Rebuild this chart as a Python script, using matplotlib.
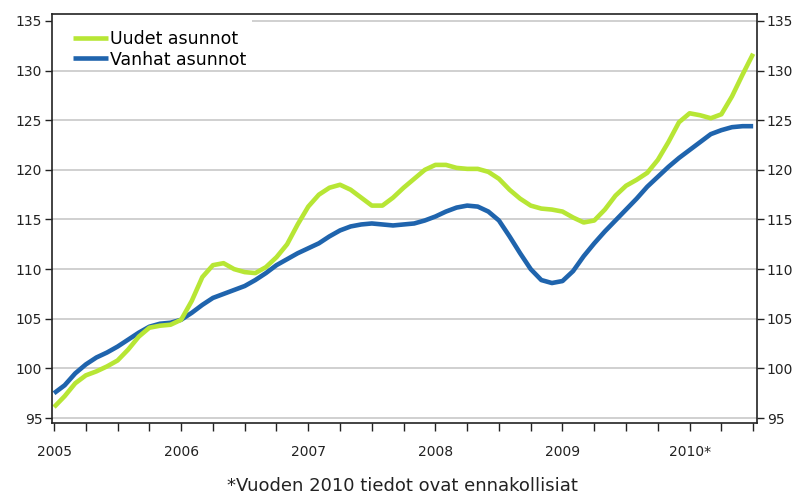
import matplotlib
matplotlib.use('Agg')
import matplotlib.pyplot as plt
from matplotlib.patches import Rectangle

# monthly index values, Jan 2005 .. Jul 2010
start_year = 2005
uudet = [96.1, 97.2, 98.5, 99.3, 99.7, 100.2, 100.8, 101.9, 103.2, 104.1, 104.3, 104.4,
         104.9, 106.8, 109.2, 110.4, 110.6, 110.0, 109.7, 109.6, 110.2, 111.2, 112.5, 114.5,
         116.3, 117.5, 118.2, 118.5, 118.0, 117.2, 116.4, 116.4, 117.2, 118.2, 119.1, 120.0,
         120.5, 120.5, 120.2, 120.1, 120.1, 119.8, 119.1, 118.0, 117.1, 116.4, 116.1, 116.0,
         115.8, 115.2, 114.7, 114.9, 116.0, 117.4, 118.4, 119.0, 119.7, 121.0, 122.8, 124.8,
         125.7, 125.5, 125.2, 125.6, 127.4, 129.6, 131.7]
vanhat = [97.5, 98.3, 99.5, 100.4, 101.1, 101.6, 102.2, 102.9, 103.6, 104.2, 104.5, 104.6,
          104.9, 105.6, 106.4, 107.1, 107.5, 107.9, 108.3, 108.9, 109.6, 110.4, 111.0, 111.6,
          112.1, 112.6, 113.3, 113.9, 114.3, 114.5, 114.6, 114.5, 114.4, 114.5, 114.6, 114.9,
          115.3, 115.8, 116.2, 116.4, 116.3, 115.8, 114.9, 113.3, 111.6, 110.0, 108.9, 108.6,
          108.8, 109.8, 111.3, 112.6, 113.8, 114.9, 116.0, 117.1, 118.3, 119.3, 120.3, 121.2,
          122.0, 122.8, 123.6, 124.0, 124.3, 124.4, 124.4]
year_labels = ['2005', '2006', '2007', '2008', '2009', '2010*']
footnote = '*Vuoden 2010 tiedot ovat ennakollisiat'

x = [start_year + i / 12 for i in range(len(uudet))]

fig = plt.figure(figsize=(7.99, 4.97), dpi=100)
ax = fig.add_axes([0.0651, 0.1489, 0.8823, 0.8229])

lb, = ax.plot(x, vanhat, color='#1f64ad', lw=3.3, solid_capstyle='butt',
              solid_joinstyle='round', label='Vanhat asunnot')
lg, = ax.plot(x, uudet, color='#b7e635', lw=3.3, solid_capstyle='butt',
              solid_joinstyle='round', label='Uudet asunnot')

ax.set_xlim(2004.984, 2010.53)
ax.set_ylim(94.5, 135.7)

ax.set_yticks(range(95, 136, 5))
ax.yaxis.grid(True, color='#c8c8c8', lw=1.2)
ax.set_axisbelow(True)

# legend area hides the top gridline
ax.add_patch(Rectangle((0, 0.965), 0.284, 0.03, transform=ax.transAxes,
                       facecolor='white', edgecolor='none', zorder=1))

ax.set_xticks([start_year + q / 4 for q in range(23)])
ax.set_xticklabels([year_labels[q // 4] if q % 4 == 0 else '' for q in range(23)])

ax.tick_params(axis='y', direction='out', length=5, width=1, labelsize=10,
               right=True, labelright=True, colors='#222222', pad=2)
ax.tick_params(axis='x', direction='out', length=6, width=1, labelsize=10,
               colors='#222222', pad=10)
for s in ax.spines.values():
    s.set_color('#222222')
    s.set_linewidth(1.2)

leg = ax.legend(handles=[lg, lb], loc='upper left', bbox_to_anchor=(0.01, 0.995),
                fontsize=12.5, frameon=False, handlelength=2.0, handletextpad=0.15,
                borderaxespad=0.3, labelspacing=0.15, borderpad=0.5)

fig.text(0.504, 0.022, footnote, ha='center', va='center', fontsize=13, color='#222222')

plt.savefig('out.png', dpi=100)
